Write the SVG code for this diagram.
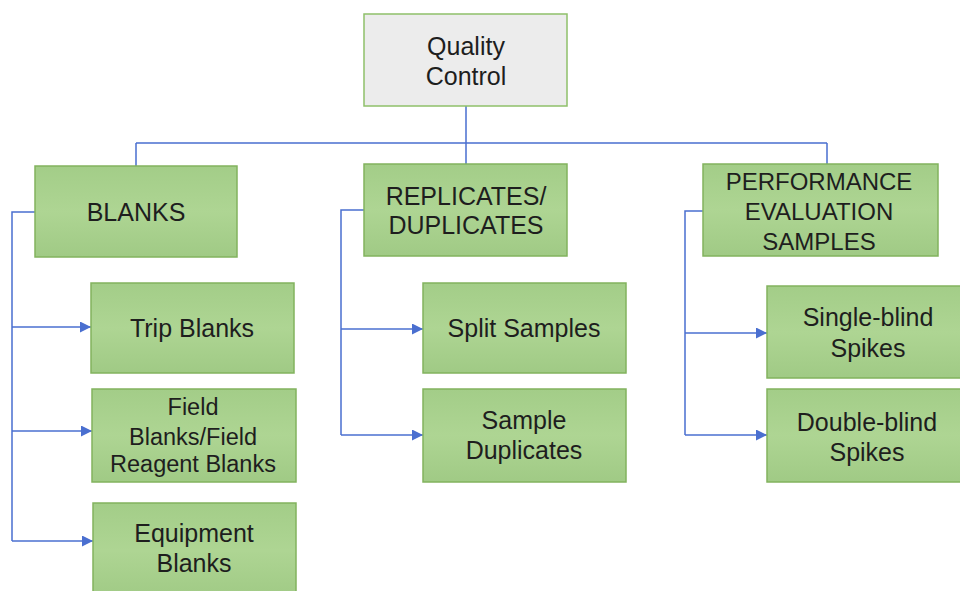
<svg xmlns="http://www.w3.org/2000/svg" width="960" height="591" viewBox="0 0 960 591">
<defs>
<marker id="arr" viewBox="0 0 10 10" refX="10" refY="5" markerWidth="11" markerHeight="11" markerUnits="userSpaceOnUse" orient="auto">
<path d="M0,0 L10,5 L0,10 z" fill="#4a6fd0"/>
</marker>
<linearGradient id="g" x1="0" y1="0" x2="0" y2="1">
<stop offset="0" stop-color="#a3cd88"/>
<stop offset="0.5" stop-color="#aed593"/>
<stop offset="1" stop-color="#a0ca85"/>
</linearGradient>
</defs>
<style>
.box{fill:url(#g);stroke:#82b35e;stroke-width:1.5}
.top{fill:#ececec;stroke:#8fc06a;stroke-width:1.5}
text{font-family:"Liberation Sans",Arial,sans-serif;font-size:25px;fill:#1e1e1e;text-anchor:middle}
.sm{font-size:23.5px}
.md{font-size:24px}
.c{fill:none;stroke:#4a6fd0;stroke-width:1.5}
</style>
<rect width="960" height="591" fill="#ffffff"/>
<g id="connectors">
<path class="c" d="M466,106 V143 M136,143 H827 M136,143 V166 M466,143 V164 M827,143 V164"/>
<path class="c" d="M35,212 H12 V541"/>
<path class="c" d="M12,327 H91" marker-end="url(#arr)"/>
<path class="c" d="M12,431 H92" marker-end="url(#arr)"/>
<path class="c" d="M12,541 H93" marker-end="url(#arr)"/>
<path class="c" d="M364,210 H341 V435"/>
<path class="c" d="M341,329 H423" marker-end="url(#arr)"/>
<path class="c" d="M341,435 H423" marker-end="url(#arr)"/>
<path class="c" d="M703,211 H685 V435"/>
<path class="c" d="M685,333 H767" marker-end="url(#arr)"/>
<path class="c" d="M685,435 H767" marker-end="url(#arr)"/>
</g>
<g id="qc"><rect class="top" x="364" y="14" width="203" height="92"/><text x="466" y="55">Quality</text><text x="466" y="85">Control</text></g>
<g id="blanks"><rect class="box" x="35" y="166" width="202" height="91"/><text x="136" y="221">BLANKS</text></g>
<g id="replicates"><rect class="box" x="364" y="164" width="203" height="92"/><text x="466" y="205">REPLICATES/</text><text x="466" y="234">DUPLICATES</text></g>
<g id="performance"><rect class="box" x="703" y="164" width="235" height="92"/><text class="md" x="819" y="190">PERFORMANCE</text><text class="md" x="819" y="220">EVALUATION</text><text class="md" x="819" y="250">SAMPLES</text></g>
<g id="trip"><rect class="box" x="91" y="283" width="203" height="90"/><text x="192" y="337">Trip Blanks</text></g>
<g id="field"><rect class="box" x="92" y="389" width="204" height="93"/><text class="sm" x="193" y="415">Field</text><text class="sm" x="193" y="445">Blanks/Field</text><text class="sm" x="193" y="472">Reagent Blanks</text></g>
<g id="equipment"><rect class="box" x="93" y="503" width="203" height="95"/><text x="194" y="542">Equipment</text><text x="194" y="572">Blanks</text></g>
<g id="split"><rect class="box" x="423" y="283" width="203" height="90"/><text x="524" y="337">Split Samples</text></g>
<g id="sampledup"><rect class="box" x="423" y="389" width="203" height="93"/><text x="524" y="429">Sample</text><text x="524" y="459">Duplicates</text></g>
<g id="single"><rect class="box" x="767" y="286" width="200" height="92"/><text x="868" y="326">Single-blind</text><text x="868" y="357">Spikes</text></g>
<g id="double"><rect class="box" x="767" y="389" width="200" height="93"/><text x="867" y="431">Double-blind</text><text x="867" y="461">Spikes</text></g>
</svg>
